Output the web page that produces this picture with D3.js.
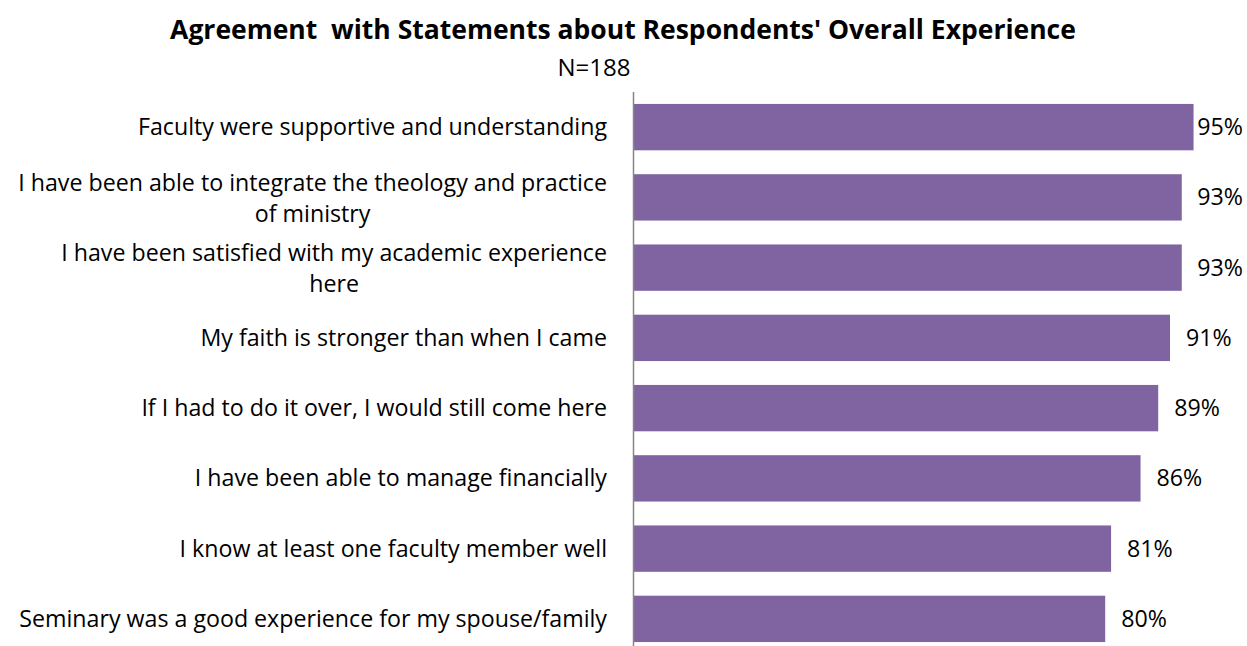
<!DOCTYPE html>
<html>
<head>
<meta charset="utf-8">
<script src="https://cdn.jsdelivr.net/npm/d3@7"></script>
<style>
  html, body { margin: 0; padding: 0; background: #fff; }
  svg { display: block; font-family: "Open Sans", "Noto Sans", sans-serif; }
</style>
</head>
<body>
<svg id="chart" width="1247" height="646"></svg>
<script>
// Survey statements (line breaks mark where a label wraps)
const categories = [
  "Faculty were supportive and understanding",
  "I have been able to integrate the theology and practice\nof ministry",
  "I have been satisfied with my academic experience\nhere",
  "My faith is stronger than when I came",
  "If I had to do it over, I would still come here",
  "I have been able to manage financially",
  "I know at least one faculty member well",
  "Seminary was a good experience for my spouse/family"
];
// Percent agreeing
const values = [95, 93, 93, 91, 89, 86, 81, 80];
const valueLabels = ["95%", "93%", "93%", "91%", "89%", "86%", "81%", "80%"];

const titleText = "Agreement\u00a0 with Statements about Respondents' Overall Experience";
const subtitleText = "N=188";

const W = 1247, H = 646;
const svg = d3.select("#chart");

const x = d3.scaleLinear().domain([0, 100]).range([634, 1223]);
const y = d3.scaleBand()
  .domain(categories)
  .range([92, 654])
  .paddingInner(0.34)
  .paddingOuter(0.17);

// Title and sample size
svg.append("text")
  .attr("x", 623).attr("y", 39)
  .attr("text-anchor", "middle")
  .attr("font-size", 26.5).attr("font-weight", "bold")
  .attr("fill", "#000")
  .text(titleText);

svg.append("text")
  .attr("x", 594).attr("y", 76)
  .attr("text-anchor", "middle")
  .attr("font-size", 24)
  .attr("fill", "#000")
  .text(subtitleText);

// Bars
svg.append("g").selectAll("rect")
  .data(values)
  .join("rect")
  .attr("x", x(0))
  .attr("y", (d, i) => y(categories[i]))
  .attr("width", d => x(d) - x(0))
  .attr("height", y.bandwidth())
  .attr("fill", "#8064A2");

// Category axis line
svg.append("line")
  .attr("x1", 633.5).attr("x2", 633.5)
  .attr("y1", 92).attr("y2", H)
  .attr("stroke", "#868686").attr("stroke-width", 1.5);

// Category labels: one text per statement, right-aligned block,
// wrapped lines centred within it
const labelRight = 607;
const lineH = 31;
const fs = 23.2;
const catG = svg.append("g").attr("font-size", fs).attr("fill", "#000");
categories.forEach((c, i) => {
  const lines = c.split("\n");
  const cy = y(c) + y.bandwidth() / 2;
  const t = catG.append("text").attr("text-anchor", "middle");
  const spans = lines.map((ln, j) => t.append("tspan")
    .attr("y", cy + (j - (lines.length - 1) / 2) * lineH + 8 + (lines.length > 1 ? 1 : 0))
    .text(ln));
  const bw = d3.max(spans, s => s.node().getComputedTextLength());
  spans.forEach(s => s.attr("x", labelRight - bw / 2));
});

// Value labels outside bar ends, kept inside the canvas
const valG = svg.append("g").attr("font-size", fs).attr("fill", "#000");
values.forEach((v, i) => {
  const t = valG.append("text")
    .attr("y", y(categories[i]) + y.bandwidth() / 2 + 8)
    .text(valueLabels[i]);
  const tw = t.node().getComputedTextLength();
  t.attr("x", Math.min(x(v) + 16, W - 4 - tw));
});
</script>
</body>
</html>
